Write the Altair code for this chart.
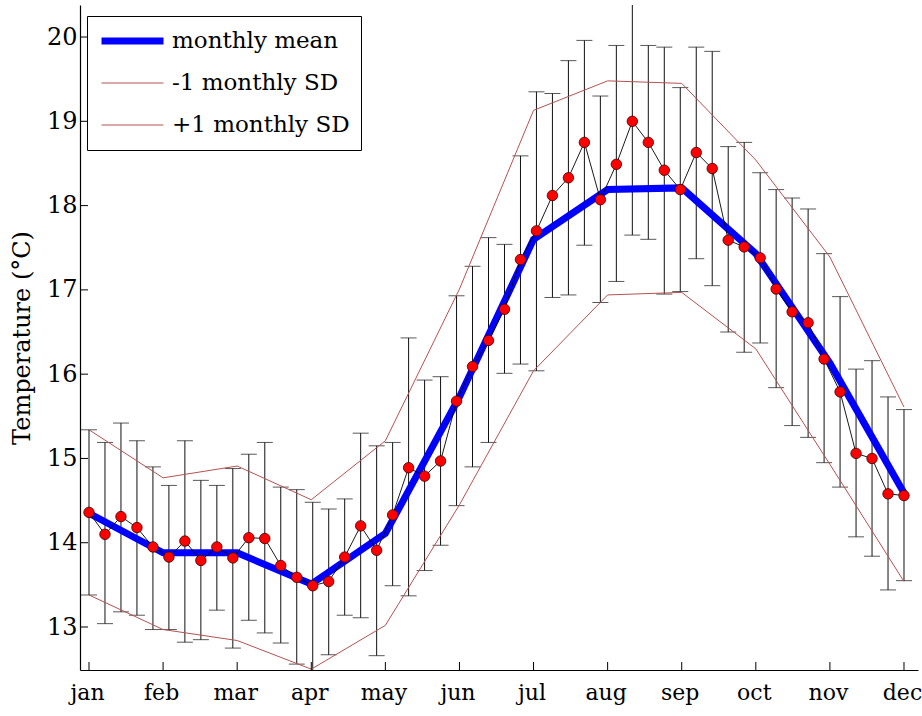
import altair as alt
import pandas as pd

FONT = "DejaVu Serif"

# Month axis
months = ["jan", "feb", "mar", "apr", "may", "jun",
          "jul", "aug", "sep", "oct", "nov", "dec"]
month_pos = list(range(1, 13))
y_ticks = [13, 14, 15, 16, 17, 18, 19, 20]

# Monthly statistics (°C)
monthly_mean = [14.35, 13.88, 13.88, 13.51, 14.11, 15.73,
                17.60, 18.19, 18.21, 17.43, 16.13, 14.59]
monthly_minus_sd = [13.38, 12.97, 12.84, 12.50, 13.02, 14.45,
                    16.04, 16.94, 16.97, 16.30, 14.93, 13.54]
monthly_plus_sd = [15.34, 14.77, 14.91, 14.51, 15.21, 17.01,
                   19.13, 19.48, 19.45, 18.54, 17.39, 15.61]

# Weekly means with their error-bar limits (°C)
weekly_mean = [14.36, 14.10, 14.31, 14.18, 13.95, 13.83, 14.02, 13.79,
               13.95, 13.82, 14.06, 14.05, 13.73, 13.59, 13.49, 13.54,
               13.83, 14.20, 13.91, 14.33, 14.89, 14.79, 14.97, 15.68,
               16.09, 16.40, 16.77, 17.36, 17.70, 18.12, 18.33, 18.75,
               18.07, 18.49, 19.00, 18.75, 18.42, 18.19, 18.63, 18.44,
               17.59, 17.51, 17.38, 17.01, 16.74, 16.61, 16.18, 15.79,
               15.06, 15.00, 14.58, 14.56]
weekly_upper = [15.34, 15.19, 15.42, 15.21, 14.90, 14.68, 15.21, 14.74,
                14.68, 14.88, 15.05, 15.19, 14.66, 14.63, 14.48, 14.40,
                14.52, 15.30, 15.15, 15.19, 16.43, 15.93, 15.97, 16.93,
                17.28, 17.62, 17.54, 18.59, 19.35, 19.33, 19.72, 19.96,
                19.30, 19.90, 20.40, 19.90, 19.88, 19.40, 19.88, 19.83,
                18.70, 18.75, 18.39, 18.19, 18.09, 17.96, 17.43, 16.92,
                16.06, 16.16, 15.73, 15.58]
weekly_lower = [13.38, 13.04, 13.18, 13.14, 12.97, 12.97, 12.82, 12.85,
                13.20, 12.75, 13.08, 12.93, 12.81, 12.56, 12.45, 12.67,
                13.14, 13.11, 12.66, 13.49, 13.37, 13.67, 13.97, 14.44,
                14.90, 15.19, 16.01, 16.12, 16.04, 16.91, 16.94, 17.53,
                16.85, 17.10, 17.65, 17.60, 16.95, 16.98, 17.37, 17.05,
                16.50, 16.26, 16.37, 15.84, 15.39, 15.25, 14.95, 14.66,
                14.07, 13.84, 13.44, 13.55]

# Weeks are spread evenly between the jan and dec month marks
n_weeks = len(weekly_mean)
week_pos = [1 + i * 11 / (n_weeks - 1) for i in range(n_weeks)]

weekly = pd.DataFrame({"pos": week_pos, "value": weekly_mean,
                       "lo": weekly_lower, "hi": weekly_upper})

series_names = ["monthly mean", "-1 monthly SD", "+1 monthly SD"]
series_values = [monthly_mean, monthly_minus_sd, monthly_plus_sd]
monthly = pd.DataFrame(
    [{"pos": p, "value": v, "series": name}
     for name, vals in zip(series_names, series_values)
     for p, v in zip(month_pos, vals)]
)

x_ticks_df = pd.DataFrame({"pos": month_pos})
y_ticks_df = pd.DataFrame({"value": y_ticks})

W, H = 838, 665

x_scale = alt.Scale(domain=[0.8785, 12.189], nice=False, zero=False)
y_scale = alt.Scale(domain=[12.49, 20.38], nice=False, zero=False)

label_expr = "[" + ",".join(f"'{m}'" for m in months) + "][datum.value - 1]"

x_axis = alt.Axis(values=month_pos, labelExpr=label_expr, ticks=False,
                  tickSize=0, grid=False, title=None, labelFontSize=22,
                  labelPadding=12, labelFlush=False, labelOffset=-2,
                  labelFont=FONT)
y_axis = alt.Axis(values=y_ticks, ticks=False, tickSize=0, grid=False,
                  title="Temperature (°C)", labelFontSize=24,
                  labelPadding=3, titleFontSize=24, titlePadding=12,
                  labelFont=FONT, titleFont=FONT)

X = alt.X("pos:Q", scale=x_scale, axis=x_axis)
Y = alt.Y("value:Q", scale=y_scale, axis=y_axis)

# Error bars: vertical stems and caps
stems = alt.Chart(weekly).mark_rule(color="#111111", strokeWidth=1, clip=True).encode(
    x=X, y=alt.Y("lo:Q", scale=y_scale, axis=y_axis), y2="hi:Q"
)
caps_hi = alt.Chart(weekly).mark_tick(
    orient="horizontal", size=16, thickness=1, color="#111111", clip=True
).encode(x=X, y=alt.Y("hi:Q", scale=y_scale, axis=y_axis))
caps_lo = alt.Chart(weekly).mark_tick(
    orient="horizontal", size=16, thickness=1, color="#111111", clip=True
).encode(x=X, y=alt.Y("lo:Q", scale=y_scale, axis=y_axis))

# Monthly mean and ±1 SD envelopes
legend = alt.Legend(
    title=None, orient="none", legendX=7, legendY=11, direction="vertical",
    symbolType="stroke", symbolSize=3844, clipHeight=28, rowPadding=14,
    padding=11, labelOffset=5, labelFont=FONT, labelFontSize=23,
    labelColor="black", strokeColor="black", fillColor="white",
    cornerRadius=0, labelLimit=400
)
monthly_lines = alt.Chart(monthly).mark_line(clip=True).encode(
    x=X, y=Y,
    color=alt.Color("series:N",
                    scale=alt.Scale(domain=series_names,
                                    range=["#0000ff", "#b55252", "#b55252"]),
                    legend=legend),
    strokeWidth=alt.StrokeWidth("series:N",
                                scale=alt.Scale(type="ordinal", domain=series_names,
                                                range=[7, 1, 1]),
                                legend=legend),
    detail="series:N",
    order=alt.Order("pos:Q"),
)

# Weekly means: thin connecting line and red markers
weekly_line = alt.Chart(weekly).mark_line(color="#000000", strokeWidth=0.9).encode(
    x=X, y=Y, order=alt.Order("pos:Q")
)
weekly_dots = alt.Chart(weekly).mark_point(
    shape="circle", filled=True, fill="#ff0000", stroke="#3a0000",
    strokeWidth=0.8, size=110, opacity=1
).encode(x=X, y=Y)

# Inward tick marks on both axes
x_tick_marks = alt.Chart(x_ticks_df).mark_rule(color="black", strokeWidth=1).encode(
    x=X, y=alt.value(H), y2=alt.value(H - 8)
)
y_tick_marks = alt.Chart(y_ticks_df).mark_rule(color="black", strokeWidth=1).encode(
    y=Y, x=alt.value(0), x2=alt.value(8)
)

chart = alt.layer(
    stems, caps_hi, caps_lo, monthly_lines, weekly_line, weekly_dots,
    x_tick_marks, y_tick_marks
).properties(
    width=W, height=H,
    padding={"left": 80, "top": 5, "right": 4, "bottom": 46},
    autosize=alt.AutoSizeParams(type="none"),
    background="white",
).configure_view(stroke=None).configure_axis(
    domainColor="black", domainWidth=1.2, labelFont=FONT, titleFont=FONT,
    labelColor="black", titleColor="black", titleFontWeight="normal"
).configure_legend(labelFont=FONT)

chart.save("out.html", embed_options={"renderer": "svg", "actions": False})
